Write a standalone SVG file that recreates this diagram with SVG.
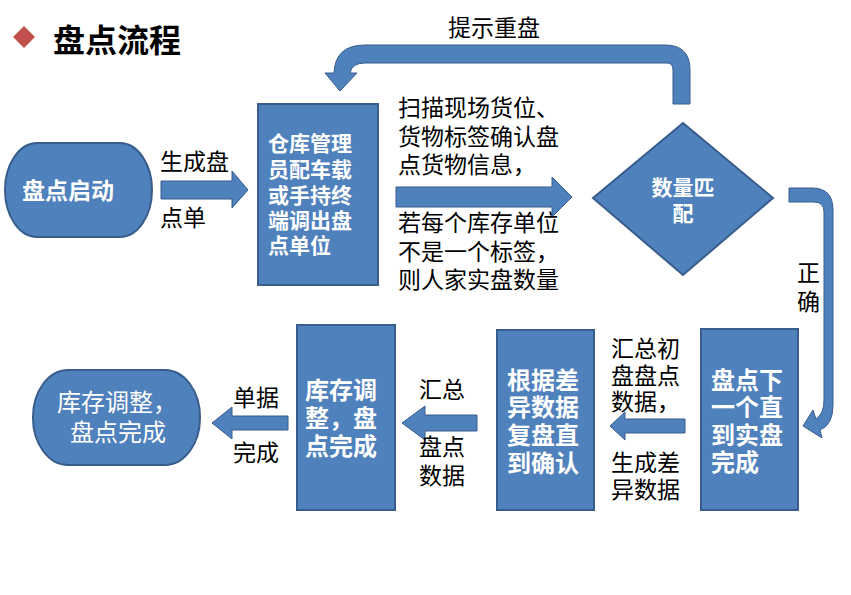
<svg xmlns="http://www.w3.org/2000/svg" width="851" height="595" viewBox="0 0 851 595">
<style>
.shape{fill:#4f81bd;stroke:#385d8a;stroke-width:2}
.arrow{fill:#4f81bd;stroke:#385d8a;stroke-width:1}
.w{fill:#fff;font-family:"Liberation Sans","Noto Sans CJK SC",sans-serif;font-weight:bold;dominant-baseline:central}
.wn{fill:#fff;font-family:"Liberation Sans","Noto Sans CJK SC",sans-serif;font-size:24px;dominant-baseline:central}
.k{fill:#000;font-family:"Liberation Sans","Noto Sans CJK SC",sans-serif;font-size:23px;dominant-baseline:central}
</style>
<rect width="851" height="595" fill="#fff"/>
<g id="title">
<polygon points="24,26 35,37 24,48 13,37" fill="#c0504d"/>
<text x="53" y="38" style="font-family:'Noto Sans CJK SC',sans-serif;font-weight:bold;font-size:32px;dominant-baseline:central">盘点流程</text>
</g>
<g id="connectors">
<polygon class="arrow" points="161,181 232,181 232,171 248,190 232,208 232,199 161,199"/>
<polygon class="arrow" points="396,187 552,187 552,177 572,197 552,217 552,207 396,207"/>
<path class="arrow" d="M 690 104 L 690 70 Q 690 45 665 45 L 365 45 Q 335 45 334 73 L 325 73 L 340 91 L 357 73 L 350 73 Q 352 63 365 63 L 667 63 Q 673 63 673 70 L 673 104 Z"/>
<path class="arrow" d="M 789 188 L 812 188 Q 833 188 833 210 L 833 405 Q 833 425 820 430 L 822 438 L 803 426 L 813 410 L 816 419 Q 824 414 824 400 L 824 212 Q 824 202 814 202 L 789 202 Z"/>
<polygon class="arrow" points="685,419 625,419 625,412 610,426 625,440 625,433 685,433"/>
<polygon class="arrow" points="477,415 425,415 425,406 402,423 425,440 425,431 477,431"/>
<polygon class="arrow" points="288,416 232,416 232,407 212,423 232,439 232,430 288,430"/>
<text class="k" x="160" y="162">生成盘</text>
<text class="k" x="160" y="218">点单</text>
<text class="k" x="448" y="28">提示重盘</text>
<text class="k" x="398" y="108">扫描现场货位、<tspan x="398" dy="29">货物标签确认盘</tspan><tspan x="398" dy="28">点货物信息，</tspan></text>
<text class="k" x="398" y="223">若每个库存单位<tspan x="398" dy="29">不是一个标签，</tspan><tspan x="398" dy="28">则人家实盘数量</tspan></text>
<text class="k" x="797" y="273">正<tspan x="797" dy="29">确</tspan></text>
<text class="k" x="611" y="349">汇总初<tspan x="611" dy="27">盘盘点</tspan><tspan x="611" dy="26">数据，</tspan></text>
<text class="k" x="611" y="463">生成差<tspan x="611" dy="27">异数据</tspan></text>
<text class="k" x="419" y="390">汇总</text>
<text class="k" x="419" y="447">盘点<tspan x="419" dy="29">数据</tspan></text>
<text class="k" x="233" y="398">单据</text>
<text class="k" x="233" y="453">完成</text>
</g>
<g id="start">
<rect class="shape" x="5" y="143" width="147" height="94" rx="32" ry="47"/>
<text class="w" x="22" y="191" font-size="23">盘点启动</text>
</g>
<g id="dispatch">
<rect class="shape" x="258" y="104" width="120" height="181"/>
<text class="w" x="268" y="143" font-size="21">仓库管理<tspan x="268" dy="26">员配车载</tspan><tspan x="268" dy="26">或手持终</tspan><tspan x="268" dy="25">端调出盘</tspan><tspan x="268" dy="25">点单位</tspan></text>
</g>
<g id="match">
<polygon class="shape" points="683,123 773,198 683,275 593,198"/>
<text class="w" x="683" y="187" font-size="21" text-anchor="middle">数量匹<tspan x="683" dy="26">配</tspan></text>
</g>
<g id="next">
<rect class="shape" x="701" y="329" width="97" height="181"/>
<text class="w" x="711" y="380" font-size="24">盘点下<tspan x="711" dy="27">一个直</tspan><tspan x="711" dy="28">到实盘</tspan><tspan x="711" dy="27">完成</tspan></text>
</g>
<g id="recheck">
<rect class="shape" x="497" y="330" width="97" height="180"/>
<text class="w" x="507" y="380" font-size="24">根据差<tspan x="507" dy="27">异数据</tspan><tspan x="507" dy="28">复盘直</tspan><tspan x="507" dy="28">到确认</tspan></text>
</g>
<g id="adjust">
<rect class="shape" x="297" y="325" width="98" height="185"/>
<text class="w" x="305" y="390" font-size="24">库存调<tspan x="305" dy="28">整，盘</tspan><tspan x="305" dy="28">点完成</tspan></text>
</g>
<g id="end">
<rect class="shape" x="33" y="370" width="167" height="95" rx="35" ry="47"/>
<text class="wn" x="57" y="402">库存调整，<tspan x="70" dy="30">盘点完成</tspan></text>
</g>
</svg>
